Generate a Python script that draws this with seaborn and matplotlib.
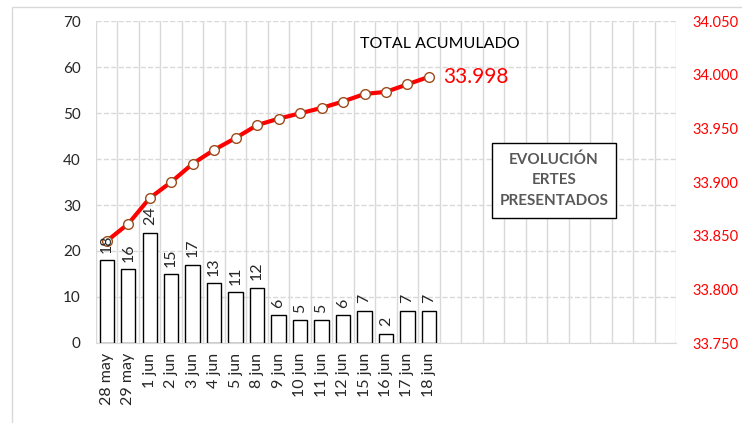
import numpy as np
import pandas as pd
import matplotlib
matplotlib.use("Agg")
import matplotlib.pyplot as plt
import seaborn as sns
from matplotlib.ticker import FuncFormatter, FixedLocator
from matplotlib.patches import Rectangle

# Data
fechas = ["28 may", "29 may", "1 jun", "2 jun", "3 jun", "4 jun", "5 jun", "8 jun",
          "9 jun", "10 jun", "11 jun", "12 jun", "15 jun", "16 jun", "17 jun", "18 jun"]
ertes_dia = [18, 16, 24, 15, 17, 13, 11, 12, 6, 5, 5, 6, 7, 2, 7, 7]
total_acumulado = [33845, 33861, 33885, 33900, 33917, 33930, 33941, 33953,
                   33959, 33964, 33969, 33975, 33982, 33984, 33991, 33998]
n_slots = 27  # category slots on the axis (the rest are empty)

df = pd.DataFrame({"fecha": fechas, "ertes": ertes_dia, "acum": total_acumulado})

sns.set_style("white")
plt.rcParams["font.family"] = ["Lato", "DejaVu Sans"]

fig = plt.figure(figsize=(7.42, 4.23), dpi=100)
ax = fig.add_axes([96 / 742, 1 - 343 / 423, 580 / 742, 322 / 423])

sns.barplot(data=df, x="fecha", y="ertes", order=fechas, color="white",
            edgecolor="black", linewidth=1, width=0.67, ax=ax, saturation=1)

ax.set_xlim(-0.5, n_slots - 0.5)
ax.set_ylim(0, 70)
ax.set_yticks(range(0, 71, 10))
ax.set_xlabel("")
ax.set_ylabel("")
ax.tick_params(axis="x", labelrotation=90, labelsize=11.5, length=0, pad=7)
ax.tick_params(axis="y", labelsize=11, length=0, pad=11)
ax.xaxis.set_minor_locator(FixedLocator(np.arange(-0.5, n_slots, 1)))
ax.set_axisbelow(True)
ax.grid(True, axis="y", which="major", color="#d9d9d9", linestyle="--", linewidth=1)
ax.grid(True, axis="x", which="minor", color="#d9d9d9", linestyle="-", linewidth=1)
ax.grid(False, axis="x", which="major")
ax.tick_params(axis="x", which="minor", length=0)
for s in ["top", "right", "left"]:
    ax.spines[s].set_visible(False)
ax.spines["bottom"].set_color("#d9d9d9")

ax2 = ax.twinx()
sns.lineplot(x=np.arange(len(fechas)), y=total_acumulado, ax=ax2, color="red",
             linewidth=3, marker="o", markersize=7, markerfacecolor="white",
             markeredgecolor="#9c4a1a", markeredgewidth=1)
ax2.set_ylim(33750, 34050)
ax2.set_yticks(range(33750, 34051, 50))
ax2.yaxis.set_major_formatter(FuncFormatter(lambda v, p: f"{v:,.0f}".replace(",", ".")))
ax2.tick_params(axis="y", colors="red", labelsize=10.5, length=0, pad=12)
for s in ax2.spines.values():
    s.set_visible(False)
ax2.set_ylabel("")
ax2.set_xlim(-0.5, n_slots - 0.5)

# bar value labels, drawn on top of the line like in the original
for i, v in enumerate(ertes_dia):
    ax2.text(i, v + 1.6, str(v), rotation=90, ha="center", va="bottom",
             fontsize=11.5, transform=ax.transData, zorder=10)

ax2.annotate(f"{total_acumulado[-1]:,}".replace(",", "."),
             xy=(len(fechas) - 1, total_acumulado[-1]), xytext=(10, 0),
             textcoords="offset points", color="red", fontsize=15, va="center")

fig.text(440 / 742, 1 - 44 / 423, "TOTAL ACUMULADO", ha="center", va="center",
         fontsize=11.5, color="black")

fig.patches.append(Rectangle((492 / 742, 1 - 218 / 423), 124 / 742, 75 / 423,
                             transform=fig.transFigure, facecolor="white",
                             edgecolor="black", linewidth=1, zorder=5))
fig.text(554 / 742, 1 - 180 / 423, "EVOLUCIÓN\nERTES\nPRESENTADOS", ha="center",
         va="center", fontsize=11, fontweight="bold", color="#595959",
         linespacing=1.6, zorder=6)

# outer chart border
fig.patches.append(Rectangle((12 / 742, -0.1), 1.2, 1 - 7 / 423 + 0.1,
                             transform=fig.transFigure, facecolor="none",
                             edgecolor="#d9d9d9", linewidth=1, zorder=0))

fig.savefig("out.png", dpi=100)
